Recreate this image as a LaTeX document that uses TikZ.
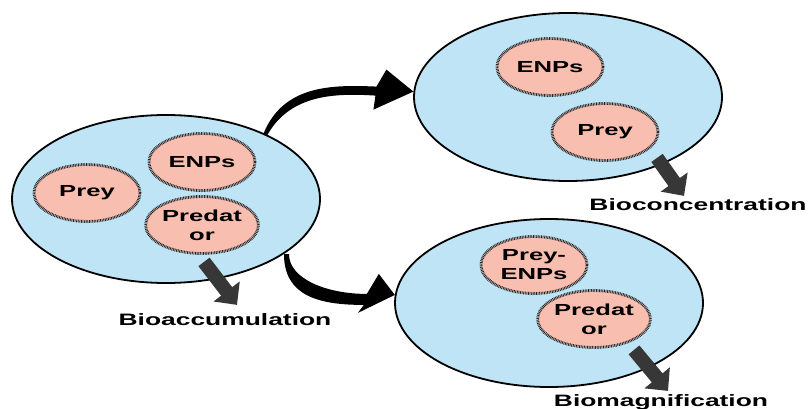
\documentclass[tikz,border=0pt]{standalone}
\usepackage{fontspec}
\setmainfont{Liberation Sans}
\usetikzlibrary{shapes.geometric,arrows.meta,calc}
\newcommand{\widetxt}[1]{\scalebox{1.6}[1]{#1}}
\definecolor{cellblue}{RGB}{190,228,246}
\definecolor{membersalmon}{RGB}{248,190,176}
\definecolor{arrowgray}{RGB}{55,55,55}

\tikzset{
  organism/.style={ellipse, draw=black, line width=1.8pt, fill=cellblue,
    minimum width=308pt, minimum height=168pt, inner sep=0pt},
  member/.style={ellipse, draw=black!85, line width=2.8pt,
    dash pattern=on 0.8pt off 0.8pt, fill=membersalmon,
    minimum width=106pt, minimum height=57pt, inner sep=0pt,
    font=\fontsize{16}{19}\selectfont\bfseries, align=center},
  fate/.style={font=\fontsize{16.5}{19}\selectfont\bfseries, inner sep=0pt},
  outflow/.style={draw=arrowgray, line width=14pt,
    -{Triangle[length=17pt,width=32pt]}},
  transfer/.style={fill=black}
}

\begin{document}
\begin{tikzpicture}[x=1pt, y=-1pt]
  \useasboundingbox (0,0) rectangle (810,409);

  % the three organisms
  \node[organism] (L)  at (166,199) {};
  \node[organism] (TR) at (568,97)  {};
  \node[organism] (BR) at (549,303) {};

  % contents of the first organism
  \node[member] (Lprey) at (87,193)  {\widetxt{Prey}};
  \node[member] (Lenp)  at (202,162) {\widetxt{ENPs}};
  \node[member] (Lpred) at (202,225) {\widetxt{Predat}\\\widetxt{or}};

  % bioconcentration organism
  \node[member] (Tenp)  at (550,67)  {\widetxt{ENPs}};
  \node[member] (Tprey) at (605,132) {\widetxt{Prey}};

  % biomagnification organism
  \node[member] (Bpe)   at (534,265) {\widetxt{Prey-}\\\widetxt{ENPs}};
  \node[member] (Bpred) at (594,319) {\widetxt{Predat}\\\widetxt{or}};

  % outcome labels
  \node[fate] (accum) at (225,320) {\widetxt{Bioaccumulation}};
  \node[fate] (conc)  at (698,205) {\widetxt{Bioconcentration}};
  \node[fate] (magn)  at (661,402) {\widetxt{Biomagnification}};

  % short grey outflow arrows
  \draw[outflow] ($(Lpred.south)+(2,7)$) -- ($(Lpred.south)+(35,50)$);
  \draw[outflow] ($(Tprey.south)+(52,-4)$) -- ($(Tprey.south)+(79,34)$);
  \draw[outflow] ($(Bpred.south)+(40,1)$) -- ($(Bpred.south)+(74,42)$);

  % curved transfer arrows
  \coordinate (S1) at (L.34);
  \coordinate (T1) at (TR.178);
  \fill[transfer] (S1) .. controls +(20,-48) and +(-45,-2) .. ($(T1)+(-37,-5)$)
    -- ($(T1)+(-27,-22)$) -- (T1) -- ($(T1)+(-40,18)$) -- ($(T1)+(-38,4)$)
    .. controls +(-45,-3) and +(22,-40) .. ($(S1)+(3,3)$) -- cycle;

  \coordinate (S2) at (L.-25);
  \coordinate (T2) at (BR.177);
  \fill[transfer] (S2) .. controls +(0,42) and +(-45,0) .. ($(T2)+(-31,10)$)
    -- ($(T2)+(-37,18)$) -- (T2) -- ($(T2)+(-16,-21)$) -- ($(T2)+(-28,-1)$)
    .. controls +(-40,0) and +(0,25) .. ($(S2)+(5,0)$) -- cycle;
\end{tikzpicture}
\end{document}
